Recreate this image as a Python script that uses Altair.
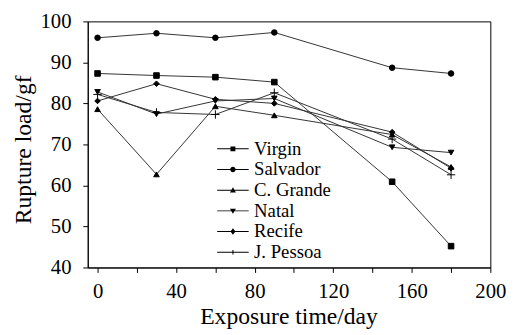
import altair as alt
import pandas as pd

# ---- data ----
days = [0, 30, 60, 90, 150, 180]
series_names = ["Virgin", "Salvador", "C. Grande", "Natal", "Recife", "J. Pessoa"]
virgin = [87.3, 86.8, 86.4, 85.2, 60.9, 45.2]
salvador = [96.0, 97.1, 96.0, 97.3, 88.7, 87.3]
c_grande = [78.6, 62.7, 79.3, 77.1, 72.4, 64.5]
natal = [82.8, 77.4, 80.6, 81.2, 69.3, 68.0]
recife = [80.6, 84.8, 81.0, 80.0, 73.0, 64.2]
j_pessoa = [82.2, 77.8, 77.3, 82.6, 71.3, 62.6]
x_ticks = list(range(0, 201, 10))
y_ticks = list(range(40, 101, 5))

values = [virgin, salvador, c_grande, natal, recife, j_pessoa]
rows = []
for name, vals in zip(series_names, values):
    for d, v in zip(days, vals):
        rows.append({"day": d, "load": v, "series": name})
df = pd.DataFrame(rows)

FONT = "Liberation Serif"

marker_paths = [
    "square",
    "circle",
    "triangle-up",
    "triangle-down",
    "diamond",
    "M-1.5,0H1.5M0,-1.5V1.5",
]
# legend symbols: a thin filled bar (the line) plus the marker, all filled,
# all subpaths wound clockwise so they merge
LINE = "M-3.2,-0.1H3.2V0.1H-3.2Z"
legend_paths = [
    LINE + "M-0.5,-0.5H0.5V0.5H-0.5Z",
    LINE + "M-0.55,0A0.55,0.55 0 1,1 0.55,0A0.55,0.55 0 1,1 -0.55,0Z",
    LINE + "M0,-0.6L0.6,0.45H-0.6Z",
    LINE + "M0,0.6L-0.6,-0.45H0.6Z",
    LINE + "M0,-0.65L0.5,0L0,0.65L-0.5,0Z",
    LINE + "M-0.1,-0.45H0.1V0.45H-0.1Z",
]

x_enc = alt.X(
    "day:Q",
    scale=alt.Scale(domain=[-5, 200], nice=False, zero=False),
    axis=alt.Axis(
        values=x_ticks,
        labelExpr="datum.value % 40 == 0 ? datum.label : ''",
        labelOverlap=False,
        labelFlush=False,
        grid=False,
        tickSize=5,
        labelPadding=8,
        title="Exposure time/day",
        titleX=204,
        titleY=57,
        titleBaseline="alphabetic",
    ),
)
y_enc = alt.Y(
    "load:Q",
    scale=alt.Scale(domain=[40, 100], nice=False, zero=False),
    axis=alt.Axis(
        values=y_ticks,
        labelExpr="datum.value % 10 == 0 ? datum.label : ''",
        labelOverlap=False,
        labelFlush=False,
        grid=False,
        tickSize=5,
        labelPadding=12,
        title="Rupture load/gf",
        titleX=-65,
        titleY=130,
        titleAngle=-90,
        titleBaseline="middle",
    ),
)

lines = alt.Chart(df).mark_line(color="#333333", strokeWidth=1).encode(
    x=x_enc, y=y_enc, detail="series:N"
)

points = alt.Chart(df).mark_point(
    filled=True, fill="black", stroke="black", strokeWidth=1, size=32, opacity=1
).encode(
    x="day:Q",
    y="load:Q",
    shape=alt.Shape(
        "series:N",
        scale=alt.Scale(domain=series_names, range=marker_paths),
        legend=None,
    ),
)

legend_layer = alt.Chart(df).mark_point(
    filled=True, color="black", opacity=0
).encode(
    x="day:Q",
    y="load:Q",
    shape=alt.Shape(
        "series:N",
        sort=series_names,
        scale=alt.Scale(domain=series_names, range=legend_paths),
        legend=alt.Legend(
            title=None,
            orient="none",
            legendX=138,
            legendY=120,
            padding=0,
            symbolSize=100,
            symbolFillColor="black",
            symbolStrokeWidth=0,
            symbolOpacity=1,
            labelOffset=12,
            labelFont=FONT,
            labelFontSize=19,
            labelColor="black",
            rowPadding=1,
        ),
    ),
)

chart = (
    alt.layer(lines, legend_layer, points)
    .resolve_scale(shape="independent")
    .properties(
        width=409,
        height=250,
        autosize=alt.AutoSizeParams(type="none"),
        padding={"left": 81, "top": 11, "right": 22, "bottom": 66},
        background="white",
    )
    .configure_view(stroke="black", strokeWidth=1)
    .configure_axis(
        domainColor="black",
        tickColor="black",
        labelColor="black",
        titleColor="black",
        labelFont=FONT,
        titleFont=FONT,
        labelFontSize=21,
        titleFontSize=24,
        titleFontWeight="normal",
    )
    .configure_legend(labelFont=FONT, labelFontSize=19, labelColor="black")
)

chart.save("out.html", embed_options={"renderer": "svg", "actions": False})
